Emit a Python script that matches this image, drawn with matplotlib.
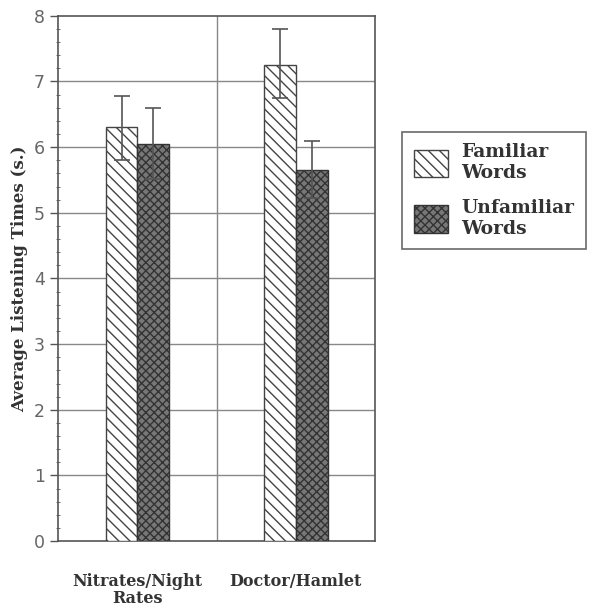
import matplotlib.pyplot as plt
import numpy as np

plt.rcParams['hatch.linewidth'] = 1.0

groups = ['Nitrates/Night\nRates', 'Doctor/Hamlet']
series = ['Familiar\nWords', 'Unfamiliar\nWords']
familiar = [6.3, 7.25]
familiar_lo = [5.8, 6.75]
familiar_hi = [6.78, 7.8]
unfamiliar = [6.05, 5.65]
unfamiliar_lo = [5.52, 5.22]
unfamiliar_hi = [6.6, 6.1]

gray = '#555555'
fig = plt.figure(figsize=(6.06, 6.08), dpi=100)
ax = fig.add_axes([0.096, 0.11, 0.523, 0.864])

x = np.array([0.5, 1.5])
w = 0.2
f_err = [np.array(familiar) - familiar_lo, np.array(familiar_hi) - familiar]
u_err = [np.array(unfamiliar) - unfamiliar_lo, np.array(unfamiliar_hi) - unfamiliar]

b1 = ax.bar(x - w / 2, familiar, w, facecolor='white', edgecolor='#444444',
            hatch='\\\\\\', linewidth=1.0, zorder=3, label=series[0])
b2 = ax.bar(x + w / 2, unfamiliar, w, facecolor='#777777', edgecolor='#333333',
            hatch='xxxx', linewidth=1.0, zorder=3, label=series[1])
ax.errorbar(x - w / 2, familiar, yerr=f_err, fmt='none', ecolor=gray,
            elinewidth=1.2, capsize=6, capthick=1.2, zorder=4)
ax.errorbar(x + w / 2, unfamiliar, yerr=u_err, fmt='none', ecolor=gray,
            elinewidth=1.2, capsize=6, capthick=1.2, zorder=4)

ax.set_xlim(0, 2)
ax.set_ylim(0, 8)
ax.set_yticks(range(0, 9))
ax.set_yticks(np.arange(0, 8.01, 0.2), minor=True)
ax.set_xticks(x)
ax.set_xticklabels(groups, fontfamily='DejaVu Serif', fontweight='bold',
                   fontsize=11.5, color='#333333', linespacing=1.0)
ax.tick_params(axis='x', length=0, pad=23)
ax.tick_params(axis='y', which='major', length=6, direction='out', labelsize=12.5,
               colors=gray, labelcolor='#666666', width=1)
ax.tick_params(axis='y', which='minor', length=3, direction='inout', colors=gray)

for yv in range(1, 8):
    ax.axhline(yv, color='#888888', linewidth=1, zorder=1)
ax.axvline(1, color='#888888', linewidth=1, zorder=1)
for s in ax.spines.values():
    s.set_color(gray)
    s.set_linewidth(1.2)

ax.set_ylabel('Average Listening Times (s.)', fontfamily='DejaVu Serif',
              fontweight='bold', fontsize=12, color='#333333', labelpad=4)

leg = fig.legend(handles=[b1, b2], loc='upper left', bbox_to_anchor=(0.664, 0.783),
                 prop={'family': 'DejaVu Serif', 'weight': 'bold', 'size': 13.5},
                 frameon=True, fancybox=False, edgecolor='#444444',
                 handlelength=1.85, handleheight=1.9, labelspacing=0.9,
                 borderpad=0.6, handletextpad=0.7, borderaxespad=0)
for t in leg.get_texts():
    t.set_color('#333333')
leg.get_frame().set_linewidth(1.2)

fig.savefig('out.png', dpi=100)
